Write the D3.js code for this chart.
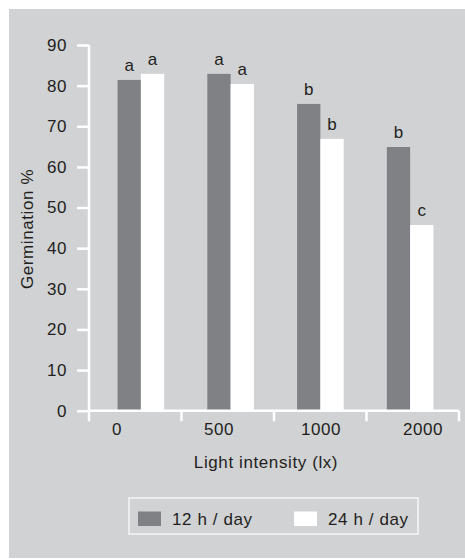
<!DOCTYPE html>
<html>
<head>
<meta charset="utf-8">
<script src="https://cdn.jsdelivr.net/npm/d3@7"></script>
<style>
  body { margin: 0; background: #fff; }
  text { font-family: "Liberation Sans", Arial, sans-serif; fill: #231f20; }
</style>
</head>
<body>
<div id="root"></div>
<script>
const categories = ["0", "500", "1000", "2000"];
const series = ["12 h / day", "24 h / day"];
const values12 = [81.4, 82.9, 75.5, 64.9];
const values24 = [82.9, 80.4, 66.9, 45.7];
const letters12 = ["a", "a", "b", "b"];
const letters24 = ["a", "a", "b", "c"];
const yTicks = [0, 10, 20, 30, 40, 50, 60, 70, 80, 90];

const width = 465;
const height = 559;
const colors = { "12 h / day": "#808184", "24 h / day": "#ffffff" };

const svg = d3.select("#root")
  .append("svg")
  .attr("width", width)
  .attr("height", height);

// panel
svg.append("rect")
  .attr("x", 9).attr("y", 9)
  .attr("width", width - 9).attr("height", 549)
  .attr("fill", "#d1d2d4");

const y = d3.scaleLinear().domain([0, 90]).range([410.7, 45]);

// category edges (axis ticks), bar groups, tick labels
const xEdge = d3.scaleLinear().domain([0, 4]).range([89, 459]);
const xBar = d3.scaleBand().domain(categories).range([96, 455]);
const xSub = d3.scaleBand().domain(series).range([0, 46.6]);
const xLab = d3.scaleBand().domain(categories).range([66, 474]);

const rows = categories.map((c, i) => ({
  cat: c,
  vals: [
    { s: series[0], v: values12[i], l: letters12[i] },
    { s: series[1], v: values24[i], l: letters24[i] },
  ],
}));

// Bars
const groups = svg.selectAll("g.cat")
  .data(rows)
  .join("g")
  .attr("class", "cat")
  .attr("transform", (d) => `translate(${xBar(d.cat) + xBar.bandwidth() / 2 - 23.3},0)`);

groups.selectAll("rect")
  .data((d) => d.vals)
  .join("rect")
  .attr("x", (d) => xSub(d.s))
  .attr("y", (d) => y(d.v))
  .attr("width", xSub.bandwidth())
  .attr("height", (d) => y(0) - y(d.v))
  .attr("fill", (d) => colors[d.s]);

// Y axis
const yAxis = d3.axisLeft(y)
  .tickValues(yTicks)
  .tickSize(12)
  .tickSizeOuter(0)
  .tickPadding(10);

const gy = svg.append("g")
  .attr("transform", "translate(89,0)")
  .call(yAxis);
gy.select(".domain").remove();
gy.selectAll("line").attr("stroke", "#fff").attr("stroke-width", 2.5);
gy.selectAll("text")
  .style("font-size", "17px")
  .style("letter-spacing", "0.6px")
  .attr("fill", "#231f20");

// axis lines
svg.append("line")
  .attr("x1", 89).attr("x2", 89)
  .attr("y1", y(90)).attr("y2", y(0) + 10.5)
  .attr("stroke", "#fff").attr("stroke-width", 2.5);
svg.append("line")
  .attr("x1", 89).attr("x2", xEdge(4))
  .attr("y1", y(0)).attr("y2", y(0))
  .attr("stroke", "#fff").attr("stroke-width", 2.5);

// X axis ticks at category edges
svg.selectAll("line.xtick")
  .data(d3.range(1, 5))
  .join("line")
  .attr("class", "xtick")
  .attr("x1", (d) => xEdge(d)).attr("x2", (d) => xEdge(d))
  .attr("y1", y(0)).attr("y2", y(0) + 10.5)
  .attr("stroke", "#fff").attr("stroke-width", 2.5);

svg.selectAll("text.xlab")
  .data(categories)
  .join("text")
  .attr("class", "xlab")
  .attr("x", (d) => xLab(d) + xLab.bandwidth() / 2)
  .attr("y", 435)
  .attr("text-anchor", "middle")
  .style("font-size", "17px")
  .style("letter-spacing", "0.6px")
  .text((d) => d);

// significance letters
groups.selectAll("text")
  .data((d) => d.vals)
  .join("text")
  .attr("x", (d) => xSub(d.s) + xSub.bandwidth() / 2)
  .attr("y", (d) => y(d.v) - 9)
  .attr("text-anchor", "middle")
  .style("font-size", "17px")
  .text((d) => d.l);

// axis titles
svg.append("text")
  .attr("x", 266)
  .attr("y", 468)
  .attr("text-anchor", "middle")
  .style("font-size", "17px")
  .style("letter-spacing", "0.6px")
  .text("Light intensity (lx)");

svg.append("text")
  .attr("transform", "translate(33,229) rotate(-90)")
  .attr("text-anchor", "middle")
  .style("font-size", "17px")
  .style("letter-spacing", "0.6px")
  .text("Germination %");

// Legend
const legend = svg.append("g").attr("transform", "translate(129,498)");
legend.append("rect")
  .attr("width", 289).attr("height", 36)
  .attr("fill", "none")
  .attr("stroke", "#fff").attr("stroke-width", 1.2);

const legendX = d3.scaleOrdinal().domain(series).range([9, 165]);
const items = legend.selectAll("g.item")
  .data(series)
  .join("g")
  .attr("class", "item")
  .attr("transform", (d) => `translate(${legendX(d)},0)`);
items.append("rect")
  .attr("y", 13.5)
  .attr("width", 23)
  .attr("height", 14.5)
  .attr("fill", (d) => colors[d]);
items.append("text")
  .attr("x", 34)
  .attr("y", 26.5)
  .style("font-size", "17px")
  .style("letter-spacing", "0.6px")
  .text((d) => d);
</script>
</body>
</html>
